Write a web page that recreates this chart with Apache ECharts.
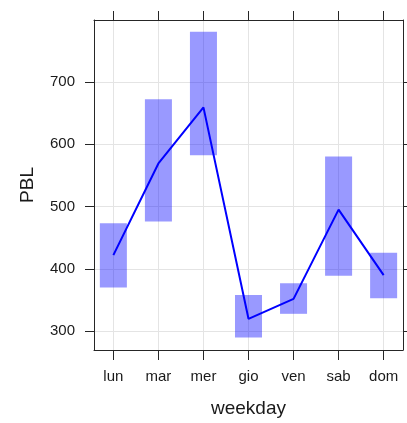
<!DOCTYPE html>
<html>
<head>
<meta charset="utf-8">
<script src="https://cdn.jsdelivr.net/npm/echarts@6/dist/echarts.min.js"></script>
<style>
  html, body { margin: 0; padding: 0; background: #fff; }
  #chart { width: 407px; height: 423px; }
</style>
</head>
<body>
<div id="chart"></div>
<script>
// Weekday categories and PBL summary per day
const weekdays = ['lun', 'mar', 'mer', 'gio', 'ven', 'sab', 'dom'];
const pblMean = [422, 569, 659, 320, 352, 495, 390];
const pblLow  = [370, 476, 582, 290, 328, 389, 353];
const pblHigh = [473, 672, 780, 358, 377, 580, 426];
const yTicks = [300, 400, 500, 600, 700];

const xPos = weekdays.map((d, i) => i + 1);
const BOX_HALF = 0.3;
const INK = '#262626';
const TEXT = '#1a1a1a';
const FONT = 'Liberation Sans, Arial, sans-serif';

const chart = echarts.init(document.getElementById('chart'), null, { renderer: 'canvas' });

const axisLineStyle = { show: true, onZero: false, lineStyle: { color: INK, width: 1 } };
const tickStyle = { show: true, inside: false, length: 9, lineStyle: { color: INK, width: 1 } };
const gridLine = { show: true, lineStyle: { color: '#e4e4e4', width: 1 } };

chart.setOption({
  animation: false,
  backgroundColor: '#fff',
  grid: { left: 94, right: 4, top: 20, bottom: 72, containLabel: false },
  xAxis: [
    {
      type: 'value', position: 'bottom', min: 0.57, max: 7.43,
      name: 'weekday', nameLocation: 'middle', nameGap: 49,
      nameTextStyle: { fontFamily: FONT, fontSize: 19, color: TEXT },
      axisLine: axisLineStyle,
      axisTick: Object.assign({}, tickStyle, { length: 10, customValues: xPos }),
      axisLabel: {
        customValues: xPos, margin: 19, color: TEXT, fontFamily: FONT, fontSize: 15,
        formatter: v => weekdays[Math.round(v) - 1] || ''
      },
      splitLine: gridLine
    },
    {
      type: 'value', position: 'top', min: 0.57, max: 7.43,
      axisLine: axisLineStyle,
      axisTick: Object.assign({}, tickStyle, { customValues: xPos }),
      axisLabel: { show: false },
      splitLine: { show: false }
    }
  ],
  yAxis: [
    {
      type: 'value', position: 'left', min: 270, max: 799,
      name: 'PBL', nameLocation: 'middle', nameGap: 57, nameRotate: 90,
      nameTextStyle: { fontFamily: FONT, fontSize: 19, color: TEXT },
      axisLine: axisLineStyle,
      axisTick: Object.assign({}, tickStyle, { customValues: yTicks }),
      axisLabel: { customValues: yTicks, margin: 19, color: TEXT, fontFamily: FONT, fontSize: 15 },
      splitLine: gridLine
    },
    {
      type: 'value', position: 'right', min: 270, max: 799,
      axisLine: axisLineStyle,
      axisTick: Object.assign({}, tickStyle, { customValues: yTicks }),
      axisLabel: { show: false },
      splitLine: { show: false }
    }
  ],
  series: [
    {
      type: 'custom',
      xAxisIndex: 0, yAxisIndex: 0,
      data: xPos.map((x, i) => [x, pblLow[i], pblHigh[i]]),
      renderItem(params, api) {
        const x = api.value(0);
        const p1 = api.coord([x - BOX_HALF, api.value(2)]);
        const p2 = api.coord([x + BOX_HALF, api.value(1)]);
        return {
          type: 'rect',
          shape: { x: p1[0], y: p1[1], width: p2[0] - p1[0], height: p2[1] - p1[1] },
          style: { fill: 'rgba(0, 0, 255, 0.4)' }
        };
      },
      z: 2
    },
    {
      type: 'line',
      xAxisIndex: 0, yAxisIndex: 0,
      data: xPos.map((x, i) => [x, pblMean[i]]),
      showSymbol: false,
      lineStyle: { color: '#0000ff', width: 2 },
      z: 3
    }
  ]
});
</script>
</body>
</html>
